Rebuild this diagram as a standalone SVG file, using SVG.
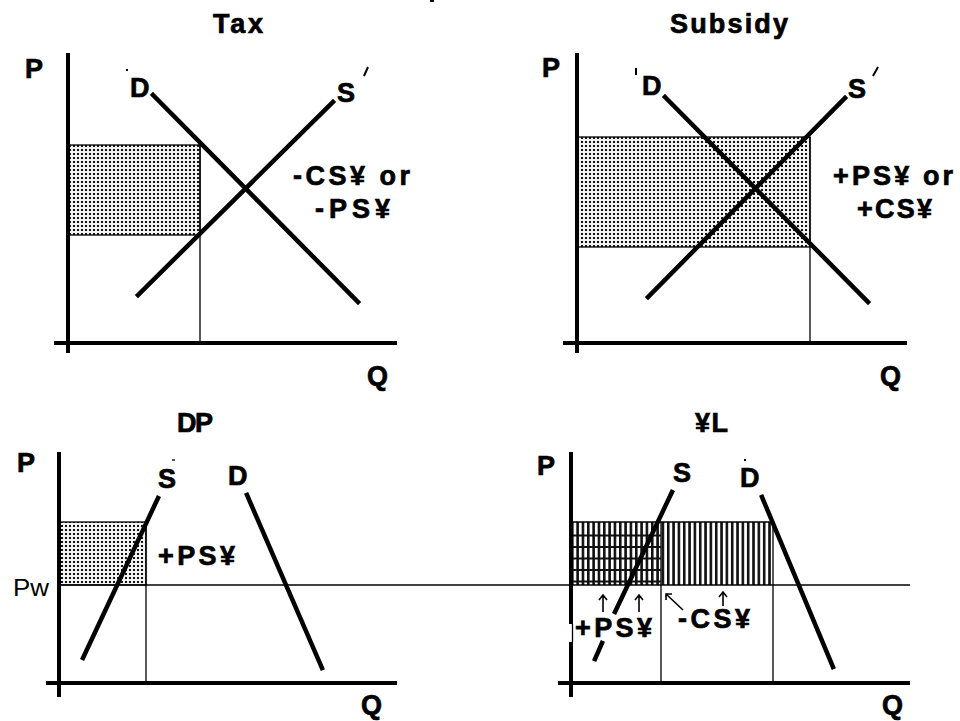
<svg xmlns="http://www.w3.org/2000/svg" width="960" height="721" viewBox="0 0 960 721">
<defs>
<pattern id="dots" patternUnits="userSpaceOnUse" x="0" y="0" width="4" height="4">
<rect width="4" height="4" fill="#f2f2f2"/>
<rect x="1" y="1" width="2" height="2" fill="#111"/>
</pattern>
<pattern id="vstripes" patternUnits="userSpaceOnUse" x="571" y="0" width="5.33" height="10">
<rect width="5.33" height="10" fill="#fff"/>
<rect x="0" y="0" width="2.6" height="10" fill="#111"/>
</pattern>
</defs>
<style>
.ax{stroke:#000;stroke-width:4;fill:none;stroke-linecap:butt}
.cv{stroke:#000;stroke-width:4.5;fill:none;stroke-linecap:square}
.th{stroke:#000;stroke-width:1.3;fill:none}
.mk{stroke:#000;stroke-width:2;fill:none}
.ar{stroke:#000;stroke-width:1.6;fill:none}
.b{font-family:"Liberation Sans",Arial,sans-serif;font-weight:bold;font-size:27px;fill:#000;stroke:#000;stroke-width:0.7}
.r{font-family:"Liberation Sans",Arial,sans-serif;font-weight:normal;font-size:24px;fill:#000}
</style>
<rect width="960" height="721" fill="#fff"/>
<rect x="430" y="0" width="4" height="2" fill="#000"/>

<g id="tax">
<text class="b" x="213" y="33" textLength="50" lengthAdjust="spacing">Tax</text>
<rect x="68" y="145" width="132" height="90" fill="url(#dots)" stroke="#000" stroke-width="1.3"/>
<line class="th" x1="200" y1="145" x2="200" y2="343"/>
<line class="ax" x1="68" y1="53" x2="68" y2="353"/>
<line class="ax" x1="54" y1="343" x2="397" y2="343"/>
<text class="b" x="25" y="78">P</text>
<text class="b" x="367" y="385">Q</text>
<text class="b" x="130" y="97">D</text>
<text class="b" x="337" y="102">S</text>
<rect x="126" y="69" width="2" height="2" fill="#000"/>
<line class="mk" x1="364" y1="76" x2="368" y2="67"/>
<text class="b" x="293" y="185" textLength="117" lengthAdjust="spacing">-CS¥ or</text>
<text class="b" x="315" y="218" textLength="75" lengthAdjust="spacing">-PS¥</text>
</g>

<g id="subsidy">
<text class="b" x="670" y="33" textLength="118" lengthAdjust="spacing">Subsidy</text>
<rect x="577" y="137" width="233" height="110" fill="url(#dots)" stroke="#000" stroke-width="1.3"/>
<line class="th" x1="810" y1="137" x2="810" y2="343"/>
<line class="ax" x1="577" y1="53" x2="577" y2="353"/>
<line class="ax" x1="563" y1="343" x2="907" y2="343"/>
<text class="b" x="542" y="77">P</text>
<text class="b" x="880" y="385">Q</text>
<text class="b" x="642" y="95">D</text>
<text class="b" x="848" y="98">S</text>
<line class="mk" x1="636" y1="68" x2="636" y2="75"/>
<line class="mk" x1="873" y1="76" x2="878" y2="67"/>
<text class="b" x="833" y="185" textLength="120" lengthAdjust="spacing">+PS¥ or</text>
<text class="b" x="857" y="218" textLength="75" lengthAdjust="spacing">+CS¥</text>
</g>

<g id="dp">
<text class="b" x="177" y="432" textLength="36" lengthAdjust="spacing">DP</text>
<rect x="59" y="522" width="87" height="63" fill="url(#dots)" stroke="#000" stroke-width="1.3"/>
<line class="th" x1="146" y1="522" x2="146" y2="683"/>
<line class="ax" x1="59" y1="452" x2="59" y2="697"/>
<line class="ax" x1="46" y1="683" x2="397" y2="683"/>
<text class="b" x="17" y="472">P</text>
<text class="b" x="361" y="714">Q</text>
<text class="b" x="158" y="488">S</text>
<text class="b" x="228" y="485">D</text>
<line class="th" x1="172" y1="460" x2="175" y2="460"/>
<text class="r" x="13" y="596" textLength="36" lengthAdjust="spacingAndGlyphs">Pw</text>
<text class="b" x="158" y="565" textLength="77" lengthAdjust="spacing">+PS¥</text>
</g>

<g id="yl">
<text class="b" x="695" y="432" textLength="33" lengthAdjust="spacing">¥L</text>
<rect x="571" y="522" width="202" height="63" fill="url(#vstripes)"/>
<g stroke="#111" stroke-width="2">
<line x1="571" y1="535.5" x2="661" y2="535.5"/>
<line x1="571" y1="547" x2="661" y2="547"/>
<line x1="571" y1="558.5" x2="661" y2="558.5"/>
<line x1="571" y1="570" x2="661" y2="570"/>
<line x1="571" y1="581.5" x2="661" y2="581.5"/>
</g>
<line class="th" x1="571" y1="522" x2="773" y2="522"/>
<line class="th" x1="661" y1="522" x2="661" y2="683"/>
<line class="th" x1="773" y1="522" x2="773" y2="683"/>
<line class="ax" x1="571" y1="452" x2="571" y2="624"/>
<line class="th" x1="572.5" y1="624" x2="572.5" y2="642"/>
<line class="ax" x1="571" y1="642" x2="571" y2="697"/>
<line class="ax" x1="558" y1="683" x2="910" y2="683"/>
<text class="b" x="537" y="475">P</text>
<text class="b" x="882" y="714">Q</text>
<text class="b" x="673" y="482">S</text>
<text class="b" x="740" y="487">D</text>
<rect x="744" y="459" width="2" height="2" fill="#000"/>
<text class="b" x="575" y="637" textLength="77" lengthAdjust="spacing">+PS¥</text>
<text class="b" x="678" y="628" textLength="72" lengthAdjust="spacing">-CS¥</text>
<path class="ar" d="M603,612 V596 M599,600 L603,595 L607,600"/>
<path class="ar" d="M639,612 V596 M635,600 L639,595 L643,600"/>
<path class="ar" d="M723,606 V593 M719,597 L723,592 L727,597"/>
<path class="ar" d="M683,610 L666,594 M666,600 V594 H672"/>
</g>

<g id="connectors">
<line class="cv" x1="153" y1="95" x2="358" y2="302"/>
<line class="cv" x1="138" y1="295" x2="333" y2="102"/>
<line class="cv" x1="665" y1="97" x2="868" y2="302"/>
<line class="cv" x1="648" y1="297" x2="845" y2="98"/>
<line class="th" x1="59" y1="585" x2="910" y2="585"/>
<line class="cv" x1="83" y1="658" x2="158" y2="498"/>
<line class="cv" x1="247" y1="495" x2="322" y2="668"/>
<line class="cv" x1="672" y1="492" x2="615" y2="612"/>
<line class="cv" x1="602" y1="643" x2="595" y2="659"/>
<line class="cv" x1="762" y1="497" x2="833" y2="667"/>
</g>
</svg>
